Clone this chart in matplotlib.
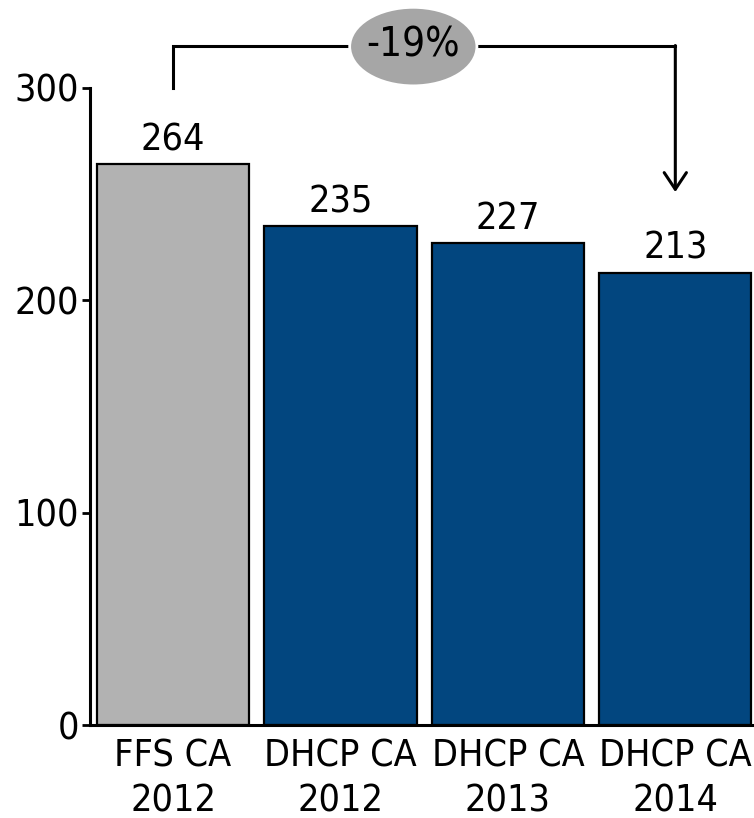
import matplotlib.pyplot as plt
from matplotlib.patches import Ellipse

# данні
categories = ['FFS CA\n2012', 'DHCP CA\n2012', 'DHCP CA\n2013', 'DHCP CA\n2014']
values = [264, 235, 227, 213]
colors = ['#b2b2b2', '#02467f', '#02467f', '#02467f']
change_label = '-19%'

plt.rcParams['font.family'] = ['DejaVu Sans']
plt.rcParams['font.stretch'] = 'condensed'
fs = 27

fig = plt.figure(figsize=(7.54, 8.18), dpi=100)
ax = fig.add_axes([90 / 754, 93 / 818, 664 / 754, 637 / 818])

x = range(len(values))
ax.bar(x, values, width=0.91, color=colors, edgecolor='black', linewidth=1.6)

for i, v in zip(x, values):
    ax.annotate(str(v), (i, v), xytext=(0, 10), textcoords='offset points',
                ha='center', va='baseline', fontsize=fs)

ax.set_xlim(-0.496, 3.47)
ax.set_ylim(0, 300)
ax.set_yticks([0, 100, 200, 300])
ax.set_xticks(list(x))
ax.set_xticklabels(categories, fontsize=fs, linespacing=1.3)
ax.tick_params(axis='y', labelsize=fs, length=6, width=2, pad=2)
ax.tick_params(axis='x', length=0, pad=10)

for s in ['top', 'right']:
    ax.spines[s].set_visible(False)
for s in ['left', 'bottom']:
    ax.spines[s].set_linewidth(2.2)

# стрілка зміни
top = 320
ax.plot([0, 0, 3], [300, top, top], color='black', lw=2.2, clip_on=False,
        solid_joinstyle='miter')
ax.annotate('', xy=(3, values[3] + 38), xytext=(3, top),
            arrowprops=dict(arrowstyle='->,head_length=0.6,head_width=0.4',
                            lw=2.2, color='black', shrinkA=0, shrinkB=0,
                            mutation_scale=20),
            annotation_clip=False)
ell = Ellipse((1.435, 319.5), 0.76, 37, facecolor='#a6a6a6', edgecolor='white',
              lw=2, clip_on=False, zorder=5)
ax.add_patch(ell)
ax.text(1.435, 320, change_label, ha='center', va='center', fontsize=fs + 2,
        zorder=6)

fig.savefig('out.png', dpi=100)
